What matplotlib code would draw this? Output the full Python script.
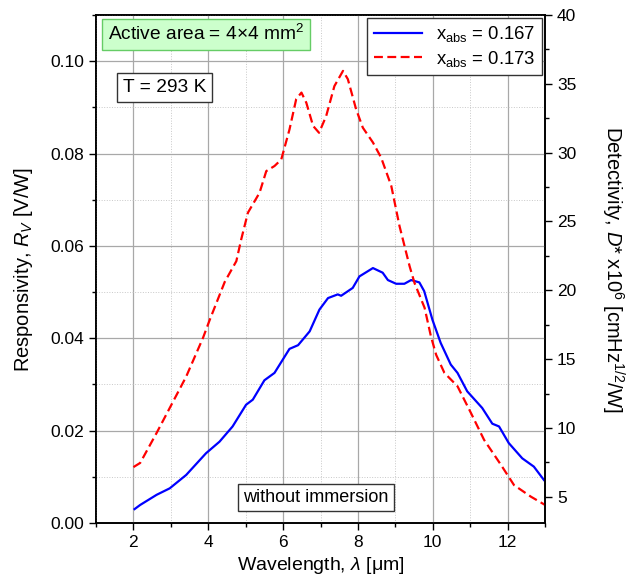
import matplotlib.pyplot as plt
from matplotlib.ticker import MultipleLocator

plt.rcParams['font.family'] = ['Liberation Sans', 'DejaVu Sans']
plt.rcParams['mathtext.fontset'] = 'custom'
plt.rcParams['mathtext.rm'] = 'Liberation Sans'
plt.rcParams['mathtext.it'] = 'Liberation Sans:italic'

# x_abs = 0.167 (solid blue)
wl_167 = [2.03, 2.18, 2.62, 2.97, 3.41, 3.94, 4.30, 4.65, 5.01, 5.19, 5.50,
          5.77, 6.17, 6.40, 6.71, 6.97, 7.20, 7.46, 7.55, 7.86, 8.04, 8.40,
          8.66, 8.80, 9.02, 9.24, 9.42, 9.64, 9.77, 9.99, 10.21, 10.48, 10.66,
          10.92, 11.32, 11.59, 11.77, 12.03, 12.39, 12.70, 12.97]
rv_167 = [0.0030, 0.0039, 0.0061, 0.0075, 0.0104, 0.0151, 0.0176, 0.0209,
          0.0256, 0.0267, 0.0309, 0.0325, 0.0377, 0.0385, 0.0415, 0.0462,
          0.0487, 0.0495, 0.0492, 0.0509, 0.0534, 0.0552, 0.0542, 0.0526,
          0.0518, 0.0518, 0.0526, 0.0521, 0.0502, 0.0440, 0.0390, 0.0343,
          0.0325, 0.0285, 0.0249, 0.0215, 0.0209, 0.0173, 0.0140, 0.0122,
          0.0093]

# x_abs = 0.173 (dashed red)
wl_173 = [2.00, 2.18, 2.62, 2.97, 3.41, 3.86, 4.04, 4.44, 4.75, 4.88, 5.06,
          5.37, 5.55, 5.77, 5.95, 6.17, 6.35, 6.49, 6.62, 6.80, 6.96, 7.15,
          7.37, 7.60, 7.73, 7.95, 8.13, 8.40, 8.62, 8.89, 9.11, 9.38, 9.51,
          9.78, 9.95, 10.09, 10.31, 10.66, 11.02, 11.37, 11.82, 12.17, 12.62,
          13.00]
rv_173 = [0.0121, 0.0130, 0.0195, 0.0249, 0.0317, 0.0401, 0.0440, 0.0522,
          0.0567, 0.0614, 0.0672, 0.0715, 0.0762, 0.0773, 0.0787, 0.0852,
          0.0918, 0.0932, 0.0910, 0.0860, 0.0845, 0.0881, 0.0946, 0.0979,
          0.0961, 0.0896, 0.0856, 0.0824, 0.0791, 0.0730, 0.0643, 0.0556,
          0.0520, 0.0466, 0.0404, 0.0364, 0.0325, 0.0296, 0.0238, 0.0180,
          0.0126, 0.0082, 0.0057, 0.0039]

fig = plt.figure(figsize=(6.37, 5.84), dpi=100)
ax = fig.add_axes([0.1507, 0.1045, 0.705, 0.8698])
ax2 = ax.twinx()

ax.set_zorder(ax2.get_zorder() + 1)
ax.patch.set_visible(False)

ax.grid(which='major', color='#a8a8a8', linewidth=0.9, linestyle='-')
ax.grid(which='minor', color='#c8c8c8', linewidth=0.7, linestyle=':')
ax.set_axisbelow(True)

ax.plot(wl_167, rv_167, color='#0000ff', linewidth=1.6,
        label=r'x$_{\mathrm{abs}}$ = 0.167')
ax.plot(wl_173, rv_173, color='#ff0000', linewidth=1.6, dashes=(4, 2),
        label=r'x$_{\mathrm{abs}}$ = 0.173')

ax.set_xlim(1, 13)
ax.set_ylim(0, 0.11)
ax2.set_ylim(3.1, 40)

ax.xaxis.set_major_locator(MultipleLocator(2))
ax.xaxis.set_minor_locator(MultipleLocator(1))
ax.yaxis.set_major_locator(MultipleLocator(0.02))
ax.yaxis.set_minor_locator(MultipleLocator(0.01))
ax.yaxis.set_major_formatter(plt.FormatStrFormatter('%.2f'))
ax2.yaxis.set_major_locator(MultipleLocator(5))
ax2.yaxis.set_minor_locator(MultipleLocator(2.5))

for a in (ax, ax2):
    a.tick_params(which='major', direction='out', length=5, width=1,
                  labelsize=12.5)
    a.tick_params(which='minor', direction='out', length=3, width=1)
    for s in a.spines.values():
        s.set_linewidth(1.2)

ax.set_xlabel(r'Wavelength, $\lambda$ [$\mathrm{\mu}$m]', fontsize=14)
ax.set_ylabel(r'Responsivity, $R_V$ [V/W]', fontsize=14.5, labelpad=11)
ax2.set_ylabel(r'Detectivity, $D$* x10$^6$ [cmHz$^{1/2}$/W]', fontsize=14.5,
               rotation=270, labelpad=36)

leg = ax.legend(loc='upper right', fontsize=13.3, handlelength=2.6,
                fancybox=False, edgecolor='#333333', framealpha=1,
                borderaxespad=0.15, borderpad=0.35, labelspacing=0.25)
leg.get_frame().set_linewidth(1)

ax.text(0.027, 0.962, r'Active area = 4$\times$4 mm$^2$',
        transform=ax.transAxes, fontsize=13.8, va='center', ha='left',
        bbox=dict(boxstyle='square,pad=0.3', facecolor='#ccffcc',
                  edgecolor='#66cc66', linewidth=1))
ax.text(0.06, 0.857, 'T = 293 K', transform=ax.transAxes,
        fontsize=13.8, va='center', ha='left',
        bbox=dict(boxstyle='square,pad=0.3', facecolor='white',
                  edgecolor='#333333', linewidth=1))
ax.text(0.49, 0.05, 'without immersion', transform=ax.transAxes,
        fontsize=13, va='center', ha='center',
        bbox=dict(boxstyle='square,pad=0.3', facecolor='white',
                  edgecolor='#333333', linewidth=1))

fig.savefig('out.png', dpi=100)
